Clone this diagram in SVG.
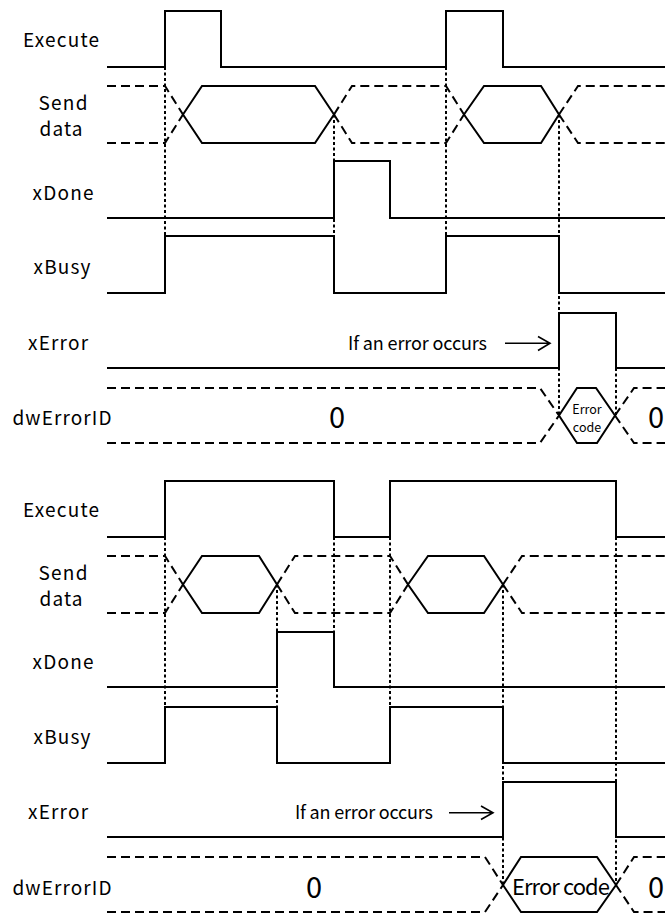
<svg xmlns="http://www.w3.org/2000/svg" width="665" height="916" viewBox="0 0 665 916">
<style>
.sig{fill:none;stroke:#000;stroke-width:2;stroke-linejoin:miter}
.dash{fill:none;stroke:#000;stroke-width:2;stroke-dasharray:9 5}
.dot{fill:none;stroke:#000;stroke-width:2;stroke-dasharray:3 2.5}
.arr{fill:none;stroke:#000;stroke-width:1.6}
.lbl{font-family:"Noto Sans CJK SC","Noto Sans",sans-serif;font-size:19px;text-anchor:middle;fill:#000}
.note{font-family:"Noto Sans CJK SC","Noto Sans",sans-serif;font-size:18px;fill:#000}
.zero{font-family:"Noto Sans CJK SC","Noto Sans",sans-serif;font-size:29px;text-anchor:middle;fill:#000}
.ec{font-family:"Noto Sans CJK SC","Noto Sans",sans-serif;text-anchor:middle;fill:#000}
</style>
<rect width="665" height="916" fill="#fff"/>

<g id="labels-top">
<text class="lbl" x="61" y="47" textLength="76" lengthAdjust="spacing">Execute</text>
<text class="lbl" x="63" y="110" textLength="49" lengthAdjust="spacing">Send</text>
<text class="lbl" x="61" y="136" textLength="43" lengthAdjust="spacing">data</text>
<text class="lbl" x="63" y="200" textLength="61" lengthAdjust="spacing">xDone</text>
<text class="lbl" x="62" y="274" textLength="57" lengthAdjust="spacing">xBusy</text>
<text class="lbl" x="58" y="350" textLength="60" lengthAdjust="spacing">xError</text>
<text class="lbl" x="62" y="425" textLength="99" lengthAdjust="spacing">dwErrorID</text>
</g>

<g id="labels-bottom">
<text class="lbl" x="61" y="517" textLength="76" lengthAdjust="spacing">Execute</text>
<text class="lbl" x="63" y="580" textLength="49" lengthAdjust="spacing">Send</text>
<text class="lbl" x="61" y="606" textLength="43" lengthAdjust="spacing">data</text>
<text class="lbl" x="63" y="669" textLength="61" lengthAdjust="spacing">xDone</text>
<text class="lbl" x="62" y="744" textLength="57" lengthAdjust="spacing">xBusy</text>
<text class="lbl" x="58" y="819" textLength="60" lengthAdjust="spacing">xError</text>
<text class="lbl" x="62" y="895" textLength="99" lengthAdjust="spacing">dwErrorID</text>
</g>

<g id="connectors">
<path class="dot" d="M165,67 V236 M334,114.5 V236 M446,67 V236 M559,114.5 V415.5 M616,368 V415.5"/>
<path class="dot" d="M165,537 V707 M277,584.5 V707 M334,537 V632 M390,537 V707 M503,584.5 V885 M616,537 V885"/>
</g>

<g id="top-execute"><path class="sig" d="M107,67 H165 V11 H221 V67 H446 V11 H503 V67 H665"/></g>
<g id="top-send-data">
<path class="dash" d="M107,86 H165 L183,114.5 M107,143 H165 L183,114.5"/>
<path class="sig" d="M183,114.5 L202,86 H315 L334,114.5 L315,143 H202 Z"/>
<path class="dash" d="M334,114.5 L352,86 H446 L464,114.5 M334,114.5 L352,143 H446 L464,114.5"/>
<path class="sig" d="M464,114.5 L484,86 H541 L559,114.5 L541,143 H484 Z"/>
<path class="dash" d="M559,114.5 L578,86 H665 M559,114.5 L578,143 H665"/>
</g>
<g id="top-xdone"><path class="sig" d="M107,218 H334 V161 H390 V218 H665"/></g>
<g id="top-xbusy"><path class="sig" d="M107,293 H165 V236 H334 V293 H446 V236 H559 V293 H665"/></g>
<g id="top-xerror">
<path class="sig" d="M107,368 H559 V313 H616 V368 H665"/>
<text class="note" x="348" y="350" textLength="139" lengthAdjust="spacing">If an error occurs</text>
<path class="arr" d="M505,343.3 H550 M538,336.5 L550,343.3 L538,350.5"/>
</g>
<g id="top-dwerrorid">
<path class="dash" d="M107,388 H540 L559,415.5 M107,443 H540 L559,415.5"/>
<path class="sig" d="M559,415.5 L577,388 H596 L615,415.5 L597,443 H577 Z"/>
<path class="dash" d="M615,415.5 L634,388 H665 M615,415.5 L634,443 H665"/>
<text class="zero" x="337" y="428">0</text>
<text class="zero" x="656" y="428">0</text>
<text class="ec" x="587" y="414" font-size="12.5">Error</text>
<text class="ec" x="587" y="432" font-size="12.5">code</text>
</g>

<g id="bottom-execute"><path class="sig" d="M107,537 H165 V481 H334 V537 H390 V481 H616 V537 H665"/></g>
<g id="bottom-send-data">
<path class="dash" d="M107,556 H165 L183,584.5 M107,613 H165 L183,584.5"/>
<path class="sig" d="M183,584.5 L202,556 H259 L277,584.5 L259,613 H202 Z"/>
<path class="dash" d="M277,584.5 L295,556 H390 L408,584.5 M277,584.5 L295,613 H390 L408,584.5"/>
<path class="sig" d="M408,584.5 L428,556 H484 L503,584.5 L484,613 H428 Z"/>
<path class="dash" d="M503,584.5 L522,556 H665 M503,584.5 L522,613 H665"/>
</g>
<g id="bottom-xdone"><path class="sig" d="M107,687 H277 V632 H334 V687 H665"/></g>
<g id="bottom-xbusy"><path class="sig" d="M107,763 H165 V707 H277 V763 H390 V707 H503 V763 H665"/></g>
<g id="bottom-xerror">
<path class="sig" d="M107,837 H503 V782 H616 V837 H665"/>
<text class="note" x="295" y="819" textLength="138" lengthAdjust="spacing">If an error occurs</text>
<path class="arr" d="M449,812.7 H493 M481,806 L493,812.7 L481,819.5"/>
</g>
<g id="bottom-dwerrorid">
<path class="dash" d="M107,857 H485 L503,885 M107,912 H485 L503,885"/>
<path class="sig" d="M503,885 L521,857 H597 L616,885 L597,912 H521 Z"/>
<path class="dash" d="M616,885 L634,857 H665 M616,885 L634,912 H665"/>
<text class="zero" x="314" y="898">0</text>
<text class="zero" x="656" y="898">0</text>
<text class="ec" x="561" y="895" font-size="22" textLength="98" lengthAdjust="spacing">Error code</text>
</g>
</svg>
